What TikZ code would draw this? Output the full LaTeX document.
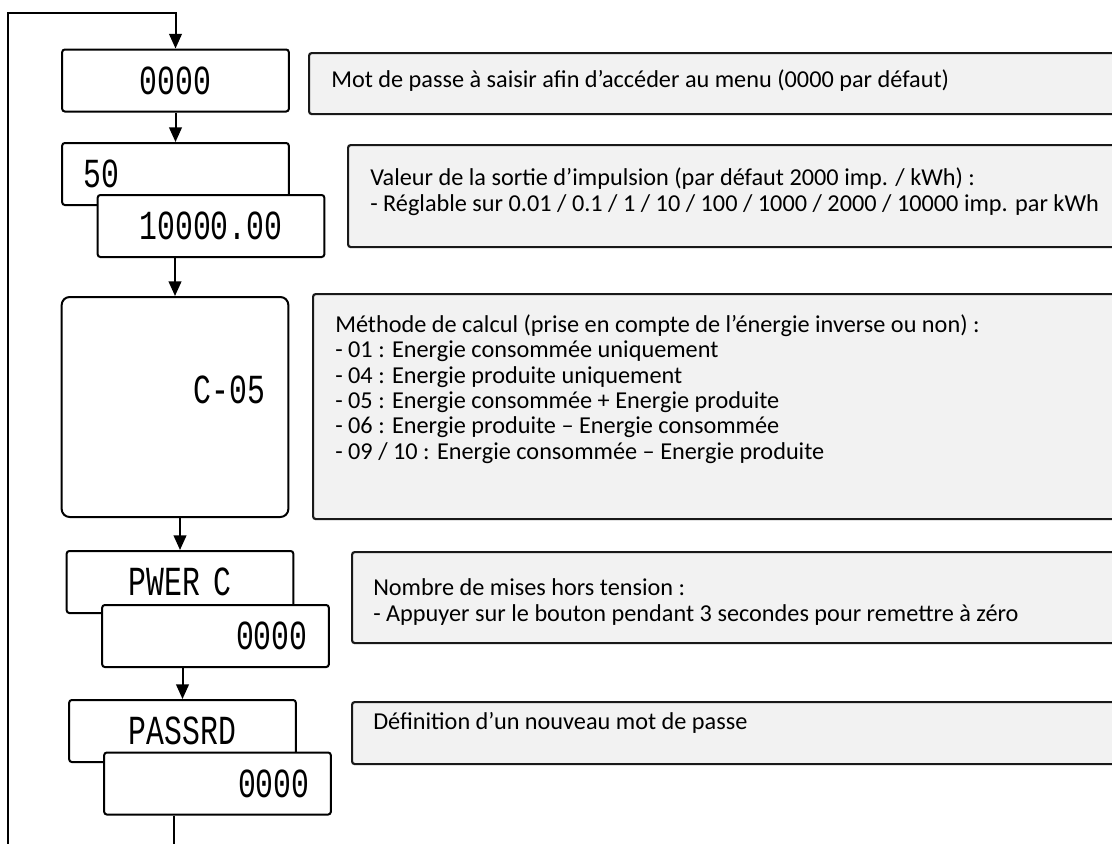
\documentclass[tikz,border=0pt]{standalone}
\usepackage{fontspec}
\setmainfont{Carlito}
\newfontfamily\lcdfont[FakeStretch=0.72]{Liberation Mono}
\usetikzlibrary{arrows.meta}

\begin{document}
\begin{tikzpicture}[x=0.75pt, y=-0.75pt,
    lcdbox/.style={draw, line width=1.5pt, fill=white, rounded corners=2pt,
        minimum width=170pt, minimum height=46.5pt, inner xsep=16pt, inner ysep=0pt,
        text width=138pt, font=\lcdfont\fontsize{31}{31}\selectfont},
    lcdtext/.style={inner sep=0pt, font=\lcdfont\fontsize{31}{31}\selectfont},
    descbox/.style={draw=black!90, line width=1.6pt, fill=black!5, rounded corners=2pt,
        anchor=north west, inner sep=0pt},
    desctext/.style={anchor=base west, align=left, inner sep=0pt,
        font=\fontsize{18.2}{19}\selectfont},
    flow/.style={line width=1.5pt, -{Triangle[length=11pt, width=9.5pt]}}]

    \useasboundingbox (0,0) rectangle (1112,843);
    \clip (0,0) rectangle (1112,843);

    % displays
    \node[lcdbox, align=center] (pass) at (175.5,80.5) {0000};
    \node[lcdbox, align=left] (pulse) at (175.5,174) {50};
    \node[lcdbox, align=center] (pulseval) at (211,226) {10000.00};
    \node[lcdbox, rounded corners=6pt, minimum height=165pt] (calc) at (175,407) {};
    \node[lcdtext, anchor=east] (calcval) at ([xshift=-18pt, yshift=12.75pt]calc.east) {C-05};
    \node[lcdbox, align=center] (pwr) at (180,582) {PWER C};
    \node[lcdbox, align=right] (pwrval) at (215.5,636) {0000};
    \node[lcdbox, align=center] (pwd) at (182.5,731) {PASSRD};
    \node[lcdbox, align=right] (pwdval) at (217.5,783.5) {0000};

    % notes (anchored on the baseline of their last line)
    \node[descbox, minimum width=616.5pt, minimum height=45.75pt] (passinfo) at (308,52) {};
    \node[desctext] (passnote) at (331,87) {Mot de passe à saisir afin d’accéder au menu (0000 par défaut)};

    \node[descbox, minimum width=585.75pt, minimum height=76.5pt] (pulseinfo) at (347,144) {};
    \node[desctext] (pulsenote) at (370,211) {Valeur de la sortie d’impulsion (par défaut 2000 imp. / kWh) :\\
        - Réglable sur 0.01 / 0.1 / 1 / 10 / 100 / 1000 / 2000 / 10000 imp. par kWh};

    \node[descbox, minimum width=613.5pt, minimum height=168.75pt] (calcinfo) at (312,293) {};
    \node[desctext] (calcnote) at (335,459) {Méthode de calcul (prise en compte de l’énergie inverse ou non) :\\
        - 01 : Energie consommée uniquement\\
        - 04 : Energie produite uniquement\\
        - 05 : Energie consommée + Energie produite\\
        - 06 : Energie produite – Energie consommée\\
        - 09 / 10 : Energie consommée – Energie produite};

    \node[descbox, minimum width=584.25pt, minimum height=68.25pt] (pwrinfo) at (351,551) {};
    \node[desctext] (pwrnote) at (373,621) {Nombre de mises hors tension :\\
        - Appuyer sur le bouton pendant 3 secondes pour remettre à zéro};

    \node[descbox, minimum width=584.25pt, minimum height=46.5pt] (pwdinfo) at (351,701) {};
    \node[desctext] (pwdnote) at (373,729) {Définition d’un nouveau mot de passe};

    % flow
    \coordinate (loopend) at (174,848);
    \coordinate (loopleft) at (8,848);
    \coordinate (looptop) at (8,13);
    \draw[flow] (loopleft) -- (looptop) -| (pass.north);
    \draw[flow] (pass) -- (pulse);
    \draw[flow] (pulseval.south -| calc.north) -- (calc.north);
    \draw[flow] (calc.south -| pwr.north) -- (pwr.north);
    \draw[flow] (pwrval.south -| pwd.north) -- (pwd.north);
    \draw[line width=1.5pt] (pwdval.south -| loopend) -- (loopend);
\end{tikzpicture}
\end{document}
